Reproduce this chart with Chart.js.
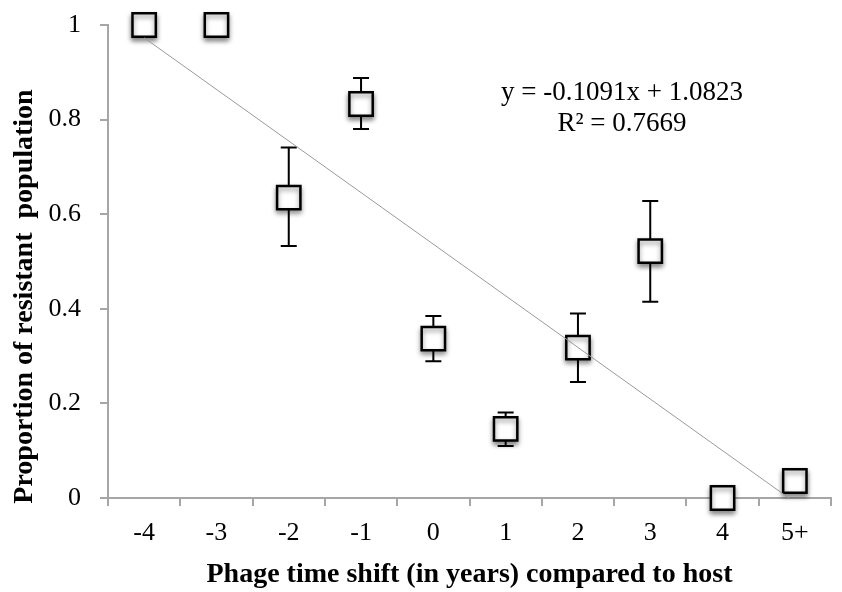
<!DOCTYPE html>
<html>
<head>
<meta charset="utf-8">
<script src="https://cdn.jsdelivr.net/npm/chart.js@4/dist/chart.umd.min.js"></script>
<style>
  html, body { margin: 0; padding: 0; background: #fff; }
  #wrap { width: 842px; height: 592px; }
</style>
</head>
<body>
<div id="wrap"><canvas id="c" width="842" height="592"></canvas></div>
<script>
// 数据
const categories = ['-4', '-3', '-2', '-1', '0', '1', '2', '3', '4', '5+'];
const proportions = [1.0, 1.0, 0.635, 0.833, 0.337, 0.146, 0.318, 0.522, 0.0, 0.036];
const errUpper = [null, null, 0.741, 0.888, 0.385, 0.181, 0.390, 0.628, null, null];
const errLower = [null, null, 0.533, 0.780, 0.289, 0.110, 0.245, 0.415, null, null];
// 趋势线两端（y = -0.1091x + 1.0823，x = 1..10）
const trendValues = [0.973, null, null, null, null, null, null, null, null, -0.009];
const yTicks = [0, 0.2, 0.4, 0.6, 0.8, 1];
const equationLines = ['y = -0.1091x + 1.0823', 'R\u00B2 = 0.7669'];
const yTitle = 'Proportion of resistant  population';
const xTitle = 'Phage time shift (in years) compared to host';

const FONT = '"Liberation Serif", "Times New Roman", serif';
const AXIS_GRAY = '#a6a6a6';

// 误差线：画在方块下面
const ErrorBarsPlugin = {
  id: 'errorBars',
  beforeDatasetsDraw(chart) {
    const { ctx, scales } = chart;
    ctx.save();
    ctx.strokeStyle = '#000';
    ctx.lineWidth = 2;
    categories.forEach((c, i) => {
      if (errUpper[i] == null) return;
      const x = scales.x.getPixelForValue(i);
      const yt = scales.y.getPixelForValue(errUpper[i]);
      const yb = scales.y.getPixelForValue(errLower[i]);
      ctx.beginPath();
      ctx.moveTo(x, yt); ctx.lineTo(x, yb);
      ctx.moveTo(x - 8, yt); ctx.lineTo(x + 8, yt);
      ctx.moveTo(x - 8, yb); ctx.lineTo(x + 8, yb);
      ctx.stroke();
    });
    ctx.restore();
  }
};

// 方块阴影
const ShadowPlugin = {
  id: 'markerShadow',
  beforeDatasetDraw(chart, args) {
    if (args.index !== 1) return;
    const { ctx } = chart;
    ctx.save();
    ctx.shadowColor = 'rgba(0,0,0,0.45)';
    ctx.shadowBlur = 5;
    ctx.shadowOffsetX = 0;
    ctx.shadowOffsetY = 3;
  },
  afterDatasetDraw(chart, args) {
    if (args.index !== 1) return;
    chart.ctx.restore();
  }
};

// 回归方程 + y 轴标题（纵向，偏下）
const TextPlugin = {
  id: 'texts',
  afterDraw(chart) {
    const { ctx, chartArea } = chart;
    const cx = chartArea.left + (chartArea.right - chartArea.left) * 0.711;
    ctx.save();
    ctx.fillStyle = '#000';
    ctx.font = '27px ' + FONT;
    ctx.textAlign = 'center';
    ctx.textBaseline = 'middle';
    ctx.fillText(equationLines[0], cx, chartArea.top + 68);
    ctx.fillText(equationLines[1], cx, chartArea.top + 99);

    ctx.translate(25, (chartArea.top + chartArea.bottom) / 2 + 35);
    ctx.rotate(-Math.PI / 2);
    ctx.font = 'bold 28px ' + FONT;
    ctx.fillText(yTitle, 0, 0);
    ctx.restore();
  }
};

new Chart(document.getElementById('c'), {
  type: 'line',
  data: {
    labels: categories,
    datasets: [
      {
        label: 'trend',
        data: trendValues,
        borderColor: '#9a9a9a',
        borderWidth: 1,
        pointRadius: 0,
        spanGaps: true,
        fill: false,
        order: 0
      },
      {
        label: 'proportion',
        data: proportions,
        showLine: false,
        pointStyle: 'rect',
        pointRadius: 16.5,
        pointHoverRadius: 16.5,
        pointBackgroundColor: '#fff',
        pointBorderColor: '#000',
        pointBorderWidth: 2.5,
        clip: false,
        order: 1
      }
    ]
  },
  plugins: [ErrorBarsPlugin, ShadowPlugin, TextPlugin],
  options: {
    responsive: false,
    animation: false,
    events: [],
    layout: { autoPadding: false, padding: { top: 25, right: 11, left: 0, bottom: 0 } },
    plugins: {
      legend: { display: false },
      tooltip: { enabled: false }
    },
    scales: {
      x: {
        type: 'category',
        offset: true,
        grid: {
          offset: true,
          drawOnChartArea: false,
          drawTicks: true,
          tickLength: 8,
          color: AXIS_GRAY,
          lineWidth: 2
        },
        border: { color: AXIS_GRAY, width: 2 },
        ticks: {
          color: '#000',
          padding: 12,
          font: { family: FONT, size: 26 },
          maxRotation: 0
        },
        title: {
          display: true,
          text: xTitle,
          color: '#000',
          font: { family: FONT, size: 28, weight: 'bold' },
          padding: { top: 1, bottom: 0 }
        },
        afterFit: s => {
          s.height = 94;
          s.paddingLeft = 0;
          s.paddingRight = 0;
        }
      },
      y: {
        min: 0,
        max: 1,
        afterBuildTicks: s => { s.ticks = yTicks.map(v => ({ value: v })); },
        grid: {
          drawOnChartArea: false,
          drawTicks: true,
          tickLength: 8,
          color: AXIS_GRAY,
          lineWidth: 2
        },
        border: { color: AXIS_GRAY, width: 2 },
        ticks: {
          color: '#000',
          padding: 19,
          font: { family: FONT, size: 26 },
          callback: v => String(v)
        },
        afterFit: s => {
          s.width = 108;
          s.paddingTop = 0;
          s.paddingBottom = 0;
        }
      }
    }
  }
});
</script>
</body>
</html>
